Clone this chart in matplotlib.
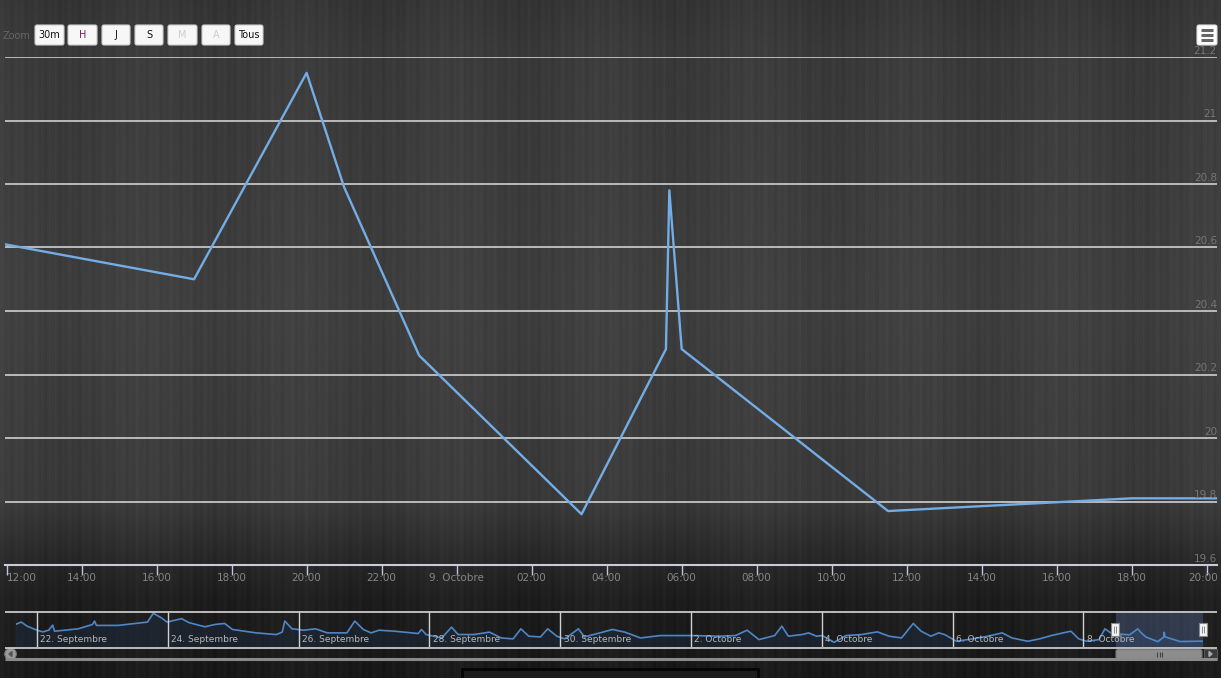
import numpy as np
import matplotlib
matplotlib.use("Agg")
import matplotlib.pyplot as plt
from matplotlib.patches import FancyBboxPatch, Rectangle, Circle, Polygon
from matplotlib.transforms import ScaledTranslation

W, H = 1221, 678

# main series: hours counted from 8 Oct 00:00, temperature
main_hours = [11.96, 17.0, 20.0, 21.0, 23.0, 27.33, 29.58, 29.67, 30.0, 35.5, 42.0, 44.27]
main_temp = [20.61, 20.50, 21.15, 20.79, 20.26, 19.76, 20.28, 20.78, 20.28, 19.77, 19.81, 19.81]

y_ticks = [19.6, 19.8, 20.0, 20.2, 20.4, 20.6, 20.8, 21.0, 21.2]
y_labels = ["19.6", "19.8", "20", "20.2", "20.4", "20.6", "20.8", "21", "21.2"]
x_ticks = list(range(12, 45, 2))
x_labels = ["12:00", "14:00", "16:00", "18:00", "20:00", "22:00", "9. Octobre",
            "02:00", "04:00", "06:00", "08:00", "10:00", "12:00", "14:00",
            "16:00", "18:00", "20:00"]

# navigator: days counted from 22 Sept 00:00
nav_days = [-0.33, -0.24, -0.15, 0.0, 0.09, 0.18, 0.24, 0.27, 0.63, 0.85, 0.88, 0.91,
            1.24, 1.69, 1.78, 1.90, 1.99, 2.21, 2.33, 2.57, 2.72, 2.87, 2.99, 3.35,
            3.66, 3.75, 3.79, 3.90, 4.08, 4.26, 4.44, 4.74, 4.86, 4.99, 5.11, 5.23,
            5.47, 5.83, 5.88, 5.95, 6.19, 6.34, 6.44, 6.68, 6.92, 7.10, 7.28, 7.40,
            7.52, 7.70, 7.81, 7.95, 8.07, 8.28, 8.37, 8.61, 8.80, 8.99, 9.23, 9.53,
            10.01, 10.44, 10.68, 10.86, 11.04, 11.28, 11.39, 11.49, 11.70, 11.80,
            11.92, 12.01, 12.19, 12.37, 12.61, 12.85, 13.03, 13.22, 13.40, 13.52,
            13.67, 13.79, 13.88, 14.06, 14.30, 14.54, 14.76, 14.91, 15.15, 15.33,
            15.51, 15.69, 15.81, 15.93, 16.05, 16.24, 16.33, 16.42]
nav_temp = [21.62, 21.88, 21.44, 21.00, 20.82, 21.00, 21.55, 20.89, 21.15, 21.62, 21.99, 21.52,
            21.52, 21.88, 22.83, 22.35, 21.88, 22.25, 21.81, 21.37, 21.62, 21.73, 21.08, 20.71,
            20.53, 20.79, 21.99, 21.15, 21.00, 21.15, 20.71, 20.71, 21.99, 21.08, 20.71, 21.00,
            20.89, 20.64, 21.08, 20.53, 20.16, 21.33, 20.53, 20.53, 20.79, 20.16, 20.06, 21.15,
            20.35, 20.27, 21.15, 20.35, 20.06, 21.15, 20.27, 20.71, 21.08, 20.79, 20.16, 20.42,
            20.42, 20.35, 20.42, 21.00, 19.98, 20.42, 21.44, 20.35, 20.53, 20.71,
            20.35, 20.42, 19.69, 20.42, 20.53, 20.82, 20.35, 20.16, 21.73, 20.89,
            20.35, 20.71, 20.53, 19.80, 20.06, 20.35, 20.71, 20.16, 19.80, 20.06,
            20.42, 20.71, 20.89, 20.06, 19.80, 19.98, 21.15, 20.71]
nav_day_marks = [0, 2, 4, 6, 8, 10, 12, 14, 16]
nav_day_labels = ["22. Septembre", "24. Septembre", "26. Septembre", "28. Septembre",
                  "30. Septembre", "2. Octobre", "4. Octobre", "6. Octobre", "8. Octobre"]

zoom_buttons = ["30m", "H", "J", "S", "M", "A", "Tous"]


def rect(x0, y0, x1, y1):
    return [x0 / W, 1 - y1 / H, (x1 - x0) / W, (y1 - y0) / H]


fig = plt.figure(figsize=(W / 100, H / 100), dpi=100)

# wood-like dark background
bg = fig.add_axes([0, 0, 1, 1], zorder=0)
yy = np.arange(H)
xx = np.arange(W)
base = np.interp(yy, [0, 50, 300, 500, 560, 600, 678], [0.21, 0.23, 0.25, 0.23, 0.16, 0.12, 0.10])
grain = (0.007 * np.sin(xx * 0.93) + 0.006 * np.sin(xx * 0.37 + 1.0)
         + 0.005 * np.sin(xx * 2.31 + 0.5) + 0.010 * np.sin(xx * 0.041 + 2.0))
img = np.clip(base[:, None] + grain[None, :], 0, 1)
bg.imshow(np.dstack([img, img, img]), aspect="auto", extent=[0, W, H, 0])
bg.set_xlim(0, W)
bg.set_ylim(H, 0)
bg.axis("off")

# main chart
ax = fig.add_axes(rect(5, 57, 1217, 565), zorder=1)
ax.patch.set_alpha(0)
ax.plot(main_hours, main_temp, color="#74ade6", lw=1.7, zorder=3)
ax.set_xlim(11.96, 44.27)
ax.set_ylim(19.6, 21.2)
ax.set_yticks(y_ticks)
ax.yaxis.grid(True, color="#c4c4c4", lw=1.3)
ax.tick_params(axis="y", left=False, labelleft=False)
ax.set_xticks(x_ticks)
ax.set_xticklabels(x_labels)
ax.tick_params(axis="x", direction="out", length=7, width=1, color="#c0c8d8",
               labelcolor="#858585", labelsize=7.5, pad=-1.5)
xl = ax.get_xticklabels()
xl[0].set_ha("left")
xl[-1].set_ha("right")
xl[-1].set_transform(xl[-1].get_transform() + ScaledTranslation(0.11, 0, fig.dpi_scale_trans))
for s in ["top", "left", "right"]:
    ax.spines[s].set_visible(False)
ax.spines["bottom"].set_color("#c8ccd8")
ax.spines["bottom"].set_linewidth(1.5)
for v, lab in zip(y_ticks, y_labels):
    ax.annotate(lab, (1.0, v), xycoords=ax.get_yaxis_transform(), xytext=(0, 4.5),
                textcoords="offset points", ha="right", va="center",
                color="#767676", fontsize=7.5)

# navigator
nav = fig.add_axes(rect(16, 611, 1203, 647), zorder=1)
nav.patch.set_alpha(0)
all_days = nav_days + [16 + h / 24 for h in main_hours]
all_temp = nav_temp + main_temp
nav.fill_between(all_days, all_temp, 19.0, color="#1d2a3c", alpha=0.55, lw=0)
nav.plot(all_days, all_temp, color="#4f86c6", lw=1.2)
nav.axvspan(16 + main_hours[0] / 24, 16 + main_hours[-1] / 24, color="#6685c2", alpha=0.3, lw=0)
for d, lab in zip(nav_day_marks, nav_day_labels):
    nav.axvline(d, color="#d0d0d0", lw=1)
    nav.annotate(lab, (d, 0), xycoords=nav.get_xaxis_transform(), xytext=(2.5, 2),
                 textcoords="offset points", ha="left", va="bottom",
                 color="#b8b8b8", fontsize=6.5)
nav.set_xlim(-0.32, 17.83)
nav.set_ylim(19.18, 23.08)
nav.axis("off")

# interface elements in pixel space
ui = fig.add_axes([0, 0, 1, 1], zorder=2)
ui.patch.set_alpha(0)
ui.set_xlim(0, W)
ui.set_ylim(H, 0)
ui.axis("off")

ui.hlines([611.5, 647.5], 5, 1217, color="#c8c8c8", lw=1.3)
ui.hlines(659, 5, 1217, color="#8a8a8a", lw=2.2)

# selection handles
for hx in [1115, 1203]:
    ui.add_patch(Rectangle((hx - 4, 623), 8, 13, facecolor="#f2f2f2", edgecolor="#888888", lw=0.8))
    ui.vlines([hx - 1, hx + 1], 626, 633, color="#888888", lw=0.7)

# scrollbar
ui.add_patch(FancyBboxPatch((1116, 649.5), 86, 9, boxstyle="round,pad=0,rounding_size=2",
                            facecolor="#8d8d8d", edgecolor="#777777", lw=0.8))
ui.vlines([1157, 1159.5, 1162], 652, 656.5, color="#444444", lw=0.8)
ui.add_patch(Circle((10.5, 654), 5.8, facecolor="#9a9a9a", edgecolor="#777777", lw=0.8))
ui.add_patch(Polygon([[12, 651.5], [12, 656.5], [9, 654]], closed=True, color="#555555"))
ui.add_patch(Rectangle((1204, 649), 13, 10, facecolor="#3a3a3a", edgecolor="#555555", lw=0.8))
ui.add_patch(Polygon([[1209, 651.5], [1209, 656.5], [1212, 654]], closed=True, color="#aaaaaa"))

# zoom buttons
ui.text(3, 36, "Zoom", color="#666666", fontsize=7, ha="left", va="center")
bx = [35, 68, 102, 135, 168, 202, 235]
bw = [29, 29, 28, 28, 29, 28, 28]
bcol = ["#111111", "#7a1a6a", "#111111", "#111111", "#cccccc", "#cccccc", "#111111"]
for x0, w, lab, c in zip(bx, bw, zoom_buttons, bcol):
    ui.add_patch(FancyBboxPatch((x0, 25), w, 20, boxstyle="round,pad=0,rounding_size=2",
                                facecolor="#f7f7f7", edgecolor="#cccccc", lw=0.8))
    ui.text(x0 + w / 2, 34.5, lab, color=c, fontsize=7, ha="center", va="center")

# export menu button
ui.add_patch(FancyBboxPatch((1197, 25), 20, 20, boxstyle="round,pad=0,rounding_size=2",
                            facecolor="#ffffff", edgecolor="#dddddd", lw=0.8))
ui.hlines([30, 35, 40], 1201, 1213, color="#666666", lw=2.2)

# partial box at the bottom edge
ui.add_patch(Rectangle((462, 668.5), 296, 14, facecolor="#1c1c1c", edgecolor="#050505", lw=2))

fig.savefig("out.png", dpi=100)
